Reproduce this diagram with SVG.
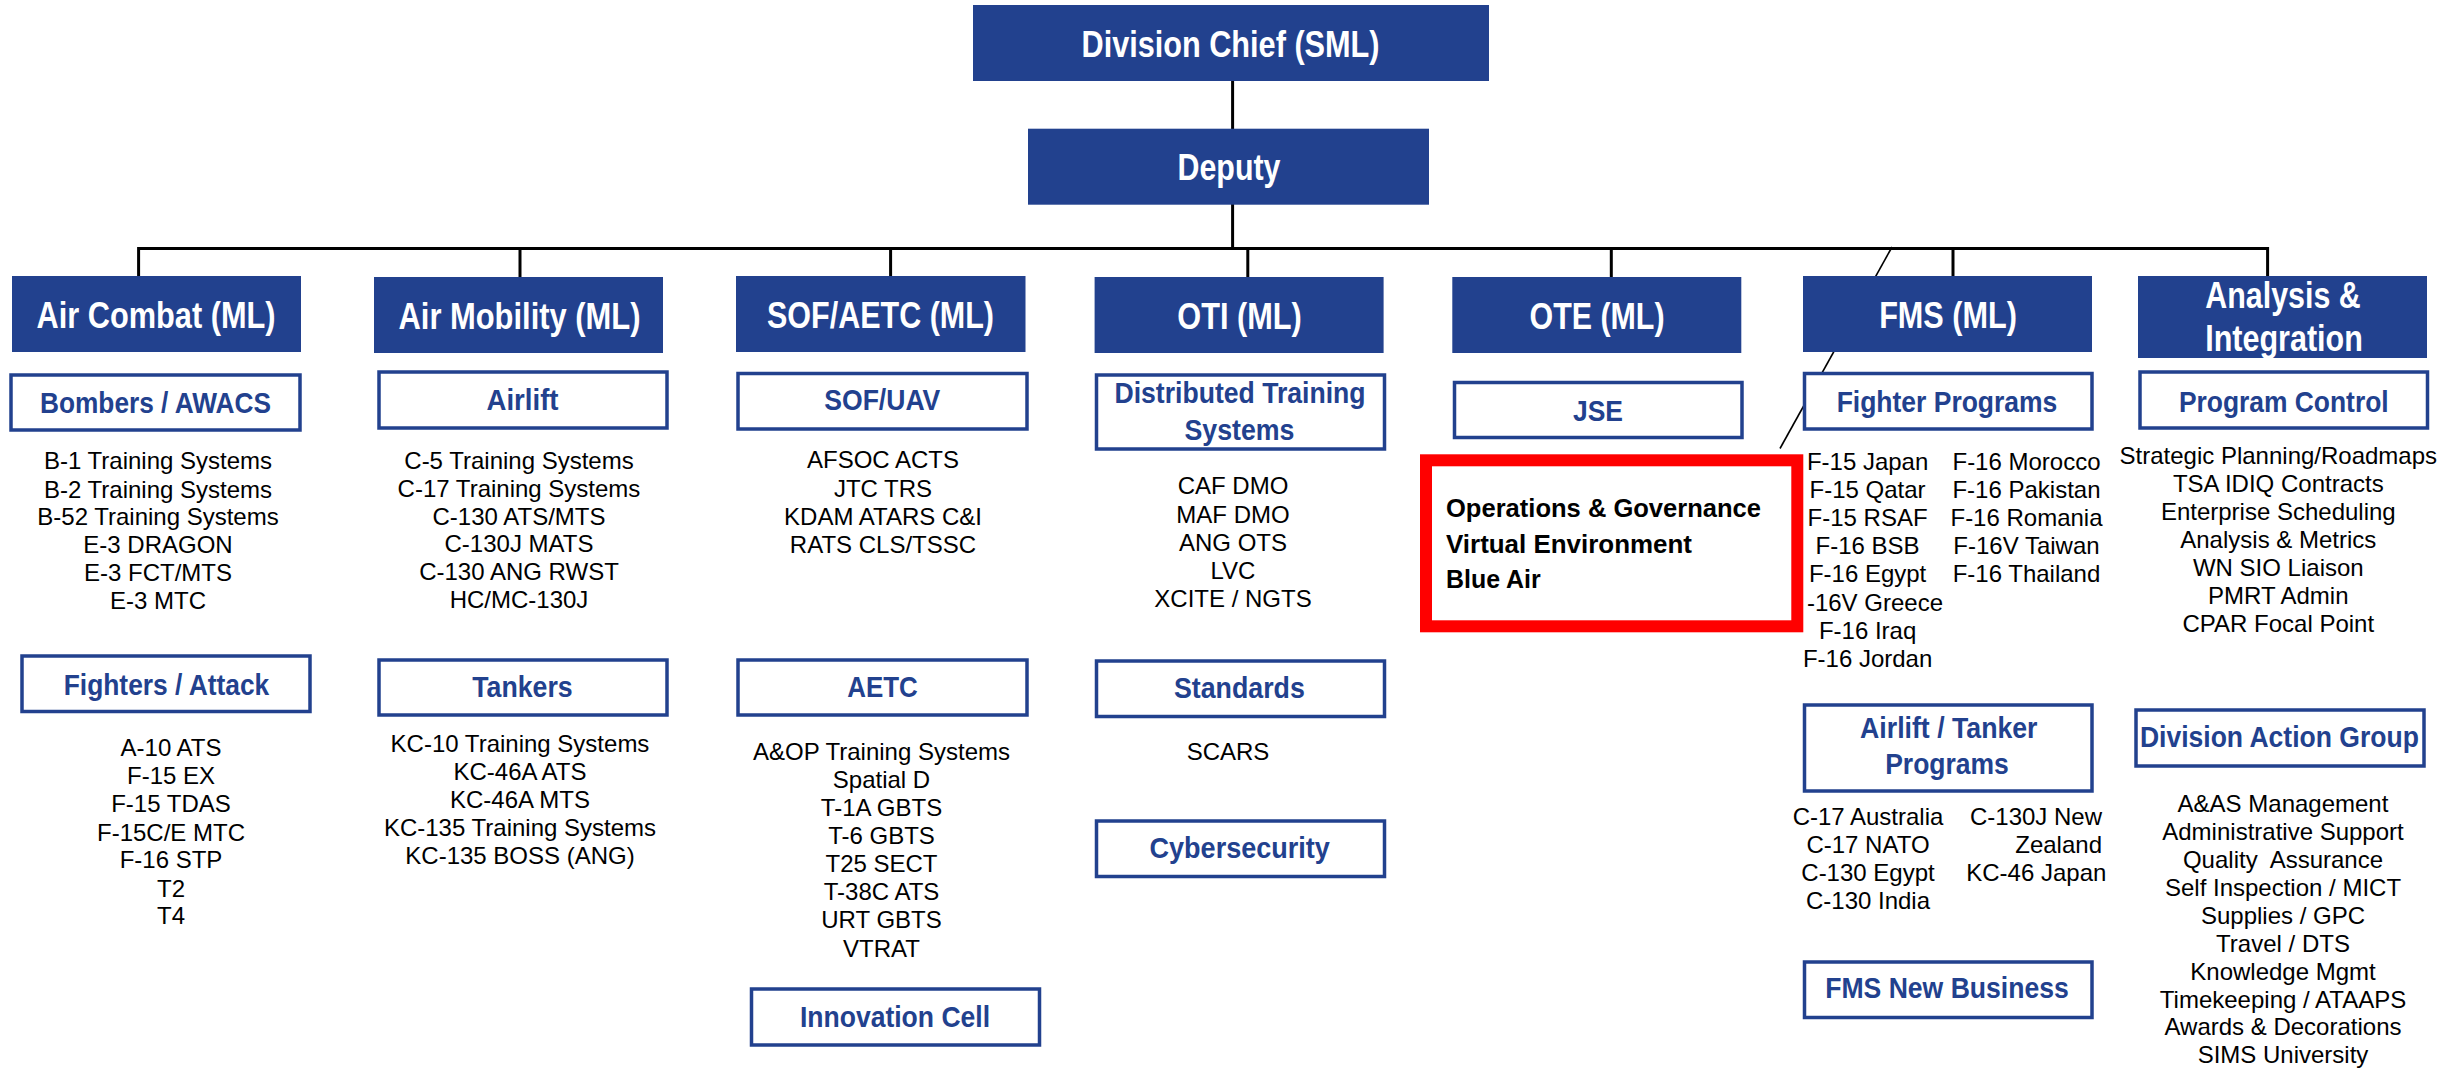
<svg xmlns="http://www.w3.org/2000/svg" width="2458" height="1069" viewBox="0 0 2458 1069">
<style>
.hdr{fill:#22418E}
.sub{fill:#fff;stroke:#22418E;stroke-width:3.5}
.red{fill:#fff;stroke:#FF0000;stroke-width:12}
.ht{font-family:"Liberation Sans",Arial,sans-serif;font-weight:bold;font-size:36px;fill:#fff;text-anchor:middle}
.st{font-family:"Liberation Sans",Arial,sans-serif;font-weight:bold;font-size:30px;fill:#22418E;text-anchor:middle}
.bt{font-family:"Liberation Sans",Arial,sans-serif;font-size:24px;fill:#000;text-anchor:middle}
.rt{font-family:"Liberation Sans",Arial,sans-serif;font-weight:bold;font-size:26px;fill:#000}
.conn{stroke:#000;stroke-width:3;fill:none}
.thin{stroke:#000;stroke-width:1.6;fill:none}
</style>
<rect width="2458" height="1069" fill="#fff"/>
<g id="connectors">
<line class="conn" x1="1232.6" y1="81" x2="1232.6" y2="129"/>
<line class="conn" x1="1232.6" y1="204" x2="1232.6" y2="248.5"/>
<path class="conn" d="M138.6 276 V248.5 H2267.6 V276"/>
<line class="conn" x1="520" y1="248.5" x2="520" y2="277"/>
<line class="conn" x1="890.6" y1="248.5" x2="890.6" y2="276"/>
<line class="conn" x1="1247.8" y1="248.5" x2="1247.8" y2="277"/>
<line class="conn" x1="1611.3" y1="248.5" x2="1611.3" y2="277"/>
<line class="conn" x1="1953" y1="248.5" x2="1953" y2="276"/>
<line class="thin" x1="1892" y1="247" x2="1780" y2="448.5"/>
</g>
<g id="division-chief">
<rect class="hdr" x="973" y="5" width="516" height="76"/>
<text class="ht" x="1230.5" y="57" textLength="298" lengthAdjust="spacingAndGlyphs">Division Chief (SML)</text>
</g>
<g id="deputy">
<rect class="hdr" x="1028" y="128.7" width="401" height="76"/>
<text class="ht" x="1229" y="180" textLength="103" lengthAdjust="spacingAndGlyphs">Deputy</text>
</g>
<g id="air-combat">
<rect class="hdr" x="12" y="276" width="289" height="76"/>
<text class="ht" x="156" y="328" textLength="239" lengthAdjust="spacingAndGlyphs">Air Combat (ML)</text>
</g>
<g id="air-mobility">
<rect class="hdr" x="374" y="277" width="289" height="76"/>
<text class="ht" x="519.5" y="329" textLength="242" lengthAdjust="spacingAndGlyphs">Air Mobility (ML)</text>
</g>
<g id="sof-aetc">
<rect class="hdr" x="736" y="276" width="289.5" height="76"/>
<text class="ht" x="880.5" y="328" textLength="227" lengthAdjust="spacingAndGlyphs">SOF/AETC (ML)</text>
</g>
<g id="oti">
<rect class="hdr" x="1094.6" y="277" width="289" height="76"/>
<text class="ht" x="1239.5" y="329" textLength="124.5" lengthAdjust="spacingAndGlyphs">OTI (ML)</text>
</g>
<g id="ote">
<rect class="hdr" x="1452.3" y="277" width="289" height="76"/>
<text class="ht" x="1597" y="329" textLength="135" lengthAdjust="spacingAndGlyphs">OTE (ML)</text>
</g>
<g id="fms">
<rect class="hdr" x="1803" y="276" width="289" height="76"/>
<text class="ht" x="1948" y="328" textLength="137.7" lengthAdjust="spacingAndGlyphs">FMS (ML)</text>
</g>
<g id="analysis-integration">
<rect class="hdr" x="2138" y="276" width="289" height="82"/>
<text class="ht" x="2283" y="308" textLength="155.5" lengthAdjust="spacingAndGlyphs">Analysis &amp;</text>
<text class="ht" x="2284" y="351" textLength="157.6" lengthAdjust="spacingAndGlyphs">Integration</text>
</g>
<g id="bombers-awacs">
<rect class="sub" x="11" y="375" width="289" height="55"/>
<text class="st" x="155.5" y="413" textLength="231" lengthAdjust="spacingAndGlyphs">Bombers / AWACS</text>
<text class="bt" x="158" y="469.3">B-1 Training Systems</text>
<text class="bt" x="158" y="497.5">B-2 Training Systems</text>
<text class="bt" x="158" y="525">B-52 Training Systems</text>
<text class="bt" x="158" y="553.3">E-3 DRAGON</text>
<text class="bt" x="158" y="580.7">E-3 FCT/MTS</text>
<text class="bt" x="158" y="609">E-3 MTC</text>
</g>
<g id="fighters-attack">
<rect class="sub" x="22" y="656" width="288" height="55.5"/>
<text class="st" x="166.5" y="695" textLength="205.5" lengthAdjust="spacingAndGlyphs">Fighters / Attack</text>
<text class="bt" x="171" y="756">A-10 ATS</text>
<text class="bt" x="171" y="784">F-15 EX</text>
<text class="bt" x="171" y="812">F-15 TDAS</text>
<text class="bt" x="171" y="840.5">F-15C/E MTC</text>
<text class="bt" x="171" y="868.3">F-16 STP</text>
<text class="bt" x="171" y="896.5">T2</text>
<text class="bt" x="171" y="924.3">T4</text>
</g>
<g id="airlift">
<rect class="sub" x="379" y="372" width="288" height="56"/>
<text class="st" x="522.5" y="410" textLength="72" lengthAdjust="spacingAndGlyphs">Airlift</text>
<text class="bt" x="519" y="469">C-5 Training Systems</text>
<text class="bt" x="519" y="497">C-17 Training Systems</text>
<text class="bt" x="519" y="524.5">C-130 ATS/MTS</text>
<text class="bt" x="519" y="552">C-130J MATS</text>
<text class="bt" x="519" y="579.5">C-130 ANG RWST</text>
<text class="bt" x="519" y="607.5">HC/MC-130J</text>
</g>
<g id="tankers">
<rect class="sub" x="379" y="660" width="288" height="55"/>
<text class="st" x="522.5" y="697" textLength="100.4" lengthAdjust="spacingAndGlyphs">Tankers</text>
<text class="bt" x="520" y="752">KC-10 Training Systems</text>
<text class="bt" x="520" y="780">KC-46A ATS</text>
<text class="bt" x="520" y="807.5">KC-46A MTS</text>
<text class="bt" x="520" y="836">KC-135 Training Systems</text>
<text class="bt" x="520" y="863.5">KC-135 BOSS (ANG)</text>
</g>
<g id="sof-uav">
<rect class="sub" x="738" y="373.5" width="289" height="55.5"/>
<text class="st" x="882.3" y="410" textLength="116" lengthAdjust="spacingAndGlyphs">SOF/UAV</text>
<text class="bt" x="883" y="468.3">AFSOC ACTS</text>
<text class="bt" x="883" y="496.7">JTC TRS</text>
<text class="bt" x="883" y="525">KDAM ATARS C&amp;I</text>
<text class="bt" x="883" y="552.7">RATS CLS/TSSC</text>
</g>
<g id="aetc">
<rect class="sub" x="738" y="660" width="289" height="55"/>
<text class="st" x="882.5" y="697" textLength="70.6" lengthAdjust="spacingAndGlyphs">AETC</text>
<text class="bt" x="881.5" y="760">A&amp;OP Training Systems</text>
<text class="bt" x="881.5" y="788.3">Spatial D</text>
<text class="bt" x="881.5" y="816">T-1A GBTS</text>
<text class="bt" x="881.5" y="844.3">T-6 GBTS</text>
<text class="bt" x="881.5" y="872.3">T25 SECT</text>
<text class="bt" x="881.5" y="900">T-38C ATS</text>
<text class="bt" x="881.5" y="928.3">URT GBTS</text>
<text class="bt" x="881.5" y="956.7">VTRAT</text>
</g>
<g id="innovation-cell">
<rect class="sub" x="751.5" y="989" width="288" height="56"/>
<text class="st" x="895" y="1026.5" textLength="190" lengthAdjust="spacingAndGlyphs">Innovation Cell</text>
</g>
<g id="distributed-training">
<rect class="sub" x="1096.5" y="375" width="288" height="74"/>
<text class="st" x="1240" y="403" textLength="251" lengthAdjust="spacingAndGlyphs">Distributed Training</text>
<text class="st" x="1239.5" y="440" textLength="110" lengthAdjust="spacingAndGlyphs">Systems</text>
<text class="bt" x="1233" y="494.3">CAF DMO</text>
<text class="bt" x="1233" y="522.7">MAF DMO</text>
<text class="bt" x="1233" y="550.7">ANG OTS</text>
<text class="bt" x="1233" y="579">LVC</text>
<text class="bt" x="1233" y="606.7">XCITE / NGTS</text>
</g>
<g id="standards">
<rect class="sub" x="1096.5" y="661" width="288" height="55.5"/>
<text class="st" x="1239.4" y="697.5" textLength="130.8" lengthAdjust="spacingAndGlyphs">Standards</text>
<text class="bt" x="1228" y="760">SCARS</text>
</g>
<g id="cybersecurity">
<rect class="sub" x="1096.5" y="821" width="288" height="55.5"/>
<text class="st" x="1239.7" y="858" textLength="180.4" lengthAdjust="spacingAndGlyphs">Cybersecurity</text>
</g>
<g id="jse">
<rect class="sub" x="1454.5" y="382.5" width="287.5" height="55"/>
<text class="st" x="1598" y="420.5" textLength="50" lengthAdjust="spacingAndGlyphs">JSE</text>
</g>
<g id="fighter-programs">
<rect class="sub" x="1804.5" y="373.5" width="287.5" height="55.5"/>
<text class="st" x="1947" y="411.5" textLength="220.7" lengthAdjust="spacingAndGlyphs">Fighter Programs</text>
<text class="bt" x="1867.6" y="470">F-15 Japan</text>
<text class="bt" x="1867.6" y="498.3">F-15 Qatar</text>
<text class="bt" x="1867.6" y="526">F-15 RSAF</text>
<text class="bt" x="1867.6" y="554.3">F-16 BSB</text>
<text class="bt" x="1867.6" y="582.3">F-16 Egypt</text>
<text class="bt" x="1943" y="611" style="text-anchor:end">-16V Greece</text>
<text class="bt" x="1867.6" y="639.3">F-16 Iraq</text>
<text class="bt" x="1867.6" y="667.3">F-16 Jordan</text>
<text class="bt" x="2026.5" y="470">F-16 Morocco</text>
<text class="bt" x="2026.5" y="498.3">F-16 Pakistan</text>
<text class="bt" x="2026.5" y="526">F-16 Romania</text>
<text class="bt" x="2026.5" y="554.3">F-16V Taiwan</text>
<text class="bt" x="2026.5" y="582.3">F-16 Thailand</text>
</g>
<g id="airlift-tanker-programs">
<rect class="sub" x="1804.5" y="705" width="287.5" height="86"/>
<text class="st" x="1948.8" y="738" textLength="177.4" lengthAdjust="spacingAndGlyphs">Airlift / Tanker</text>
<text class="st" x="1947" y="774" textLength="123.6" lengthAdjust="spacingAndGlyphs">Programs</text>
<text class="bt" x="1868" y="825">C-17 Australia</text>
<text class="bt" x="1868" y="853.3">C-17 NATO</text>
<text class="bt" x="1868" y="881">C-130 Egypt</text>
<text class="bt" x="1868" y="909">C-130 India</text>
<text class="bt" x="2102" y="825" style="text-anchor:end">C-130J New</text>
<text class="bt" x="2102" y="853.3" style="text-anchor:end">Zealand</text>
<text class="bt" x="2036.3" y="881">KC-46 Japan</text>
</g>
<g id="fms-new-business">
<rect class="sub" x="1804.5" y="962" width="287.5" height="55.5"/>
<text class="st" x="1947" y="998" textLength="243.6" lengthAdjust="spacingAndGlyphs">FMS New Business</text>
</g>
<g id="program-control">
<rect class="sub" x="2140" y="372" width="287.5" height="56"/>
<text class="st" x="2283.8" y="411.5" textLength="209.7" lengthAdjust="spacingAndGlyphs">Program Control</text>
<text class="bt" x="2278.3" y="463.5">Strategic Planning/Roadmaps</text>
<text class="bt" x="2278.3" y="491.7">TSA IDIQ Contracts</text>
<text class="bt" x="2278.3" y="519.5">Enterprise Scheduling</text>
<text class="bt" x="2278.3" y="547.7">Analysis &amp; Metrics</text>
<text class="bt" x="2278.3" y="575.7">WN SIO Liaison</text>
<text class="bt" x="2278.3" y="604">PMRT Admin</text>
<text class="bt" x="2278.3" y="631.7">CPAR Focal Point</text>
</g>
<g id="division-action-group">
<rect class="sub" x="2136" y="710" width="288" height="56"/>
<text class="st" x="2279.4" y="746.5" textLength="279" lengthAdjust="spacingAndGlyphs">Division Action Group</text>
<text class="bt" x="2283" y="811.7">A&amp;AS Management</text>
<text class="bt" x="2283" y="840">Administrative Support</text>
<text class="bt" x="2283" y="867.7" xml:space="preserve">Quality  Assurance</text>
<text class="bt" x="2283" y="896">Self Inspection / MICT</text>
<text class="bt" x="2283" y="923.5">Supplies / GPC</text>
<text class="bt" x="2283" y="951.7">Travel / DTS</text>
<text class="bt" x="2283" y="980">Knowledge Mgmt</text>
<text class="bt" x="2283" y="1007.5">Timekeeping / ATAAPS</text>
<text class="bt" x="2283" y="1035">Awards &amp; Decorations</text>
<text class="bt" x="2283" y="1063.3">SIMS University</text>
</g>
<g id="ote-highlight">
<rect class="red" x="1426" y="460.3" width="371.3" height="166"/>
<text class="rt" x="1446" y="516.7" textLength="315" lengthAdjust="spacingAndGlyphs">Operations &amp; Governance</text>
<text class="rt" x="1446" y="552.7" textLength="246" lengthAdjust="spacingAndGlyphs">Virtual Environment</text>
<text class="rt" x="1446" y="588.3" textLength="94.7" lengthAdjust="spacingAndGlyphs">Blue Air</text>
</g>
</svg>
